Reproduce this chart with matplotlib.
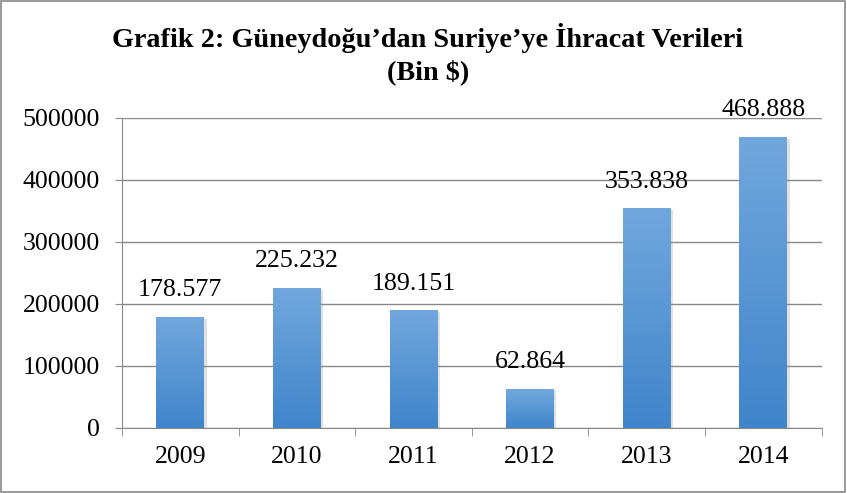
import numpy as np
import matplotlib.pyplot as plt
from matplotlib.patches import Rectangle
from matplotlib.colors import LinearSegmentedColormap

plt.rcParams['font.family'] = ['Liberation Serif', 'DejaVu Serif']

years = ['2009', '2010', '2011', '2012', '2013', '2014']
values = [178577, 225232, 189151, 62864, 353838, 468888]
labels = ['178.577', '225.232', '189.151', '62.864', '353.838', '468.888']

fig = plt.figure(figsize=(8.47, 4.93), dpi=100)
ax = fig.add_axes([0.144, 0.132, 0.826, 0.629])

# gradient for bars: light at top, darker at bottom
cmap = LinearSegmentedColormap.from_list('bar', ['#3f85cb', '#72a7dd'])
grad = np.linspace(0, 1, 256).reshape(-1, 1)

x = np.arange(len(years))
w = 0.41
for xi, v, lab in zip(x, values, labels):
    # soft shadow
    ax.add_patch(Rectangle((xi - w / 2 + 0.02, -3000), w, v, color='#888888',
                           alpha=0.25, zorder=1, linewidth=0))
    ax.imshow(grad, cmap=cmap, aspect='auto', origin='lower',
              extent=(xi - w / 2, xi + w / 2, 0, v), zorder=2)
    ax.annotate(lab, (xi, v), xytext=(0, 15), textcoords='offset points',
                ha='center', va='baseline', fontsize=18.6)

ax.set_xlim(-0.5, len(years) - 0.5)
ax.set_ylim(0, 500000)
ax.set_yticks(np.arange(0, 500001, 100000))
ax.set_xticks(x)
ax.set_xticklabels(years)
ax.set_xticks(np.arange(-0.5, len(years), 1), minor=True)
ax.tick_params(axis='x', which='major', length=0, pad=13, labelsize=18.6)
ax.tick_params(axis='x', which='minor', length=6, color='#888888', direction='out')
ax.tick_params(axis='y', length=5, color='#888888', labelsize=18.6, pad=11)

ax.grid(axis='y', color='#888888', linewidth=1)
ax.set_axisbelow(True)
for s in ['top', 'right']:
    ax.spines[s].set_visible(False)
ax.spines['left'].set_color('#888888')
ax.spines['bottom'].set_color('#888888')

fig.text(0.505, 0.905, 'Grafik 2: Güneydoğu\u2019dan Suriye\u2019ye İhracat Verileri',
         ha='center', va='baseline', fontsize=20.3, fontweight='bold')
fig.text(0.505, 0.840, '(Bin $)',
         ha='center', va='baseline', fontsize=20.3, fontweight='bold')

fig.patches.append(Rectangle((0.001, 0.002), 0.997, 0.995, transform=fig.transFigure,
                             fill=False, edgecolor='#888888', linewidth=1.2))

fig.savefig('out.png', dpi=100)
